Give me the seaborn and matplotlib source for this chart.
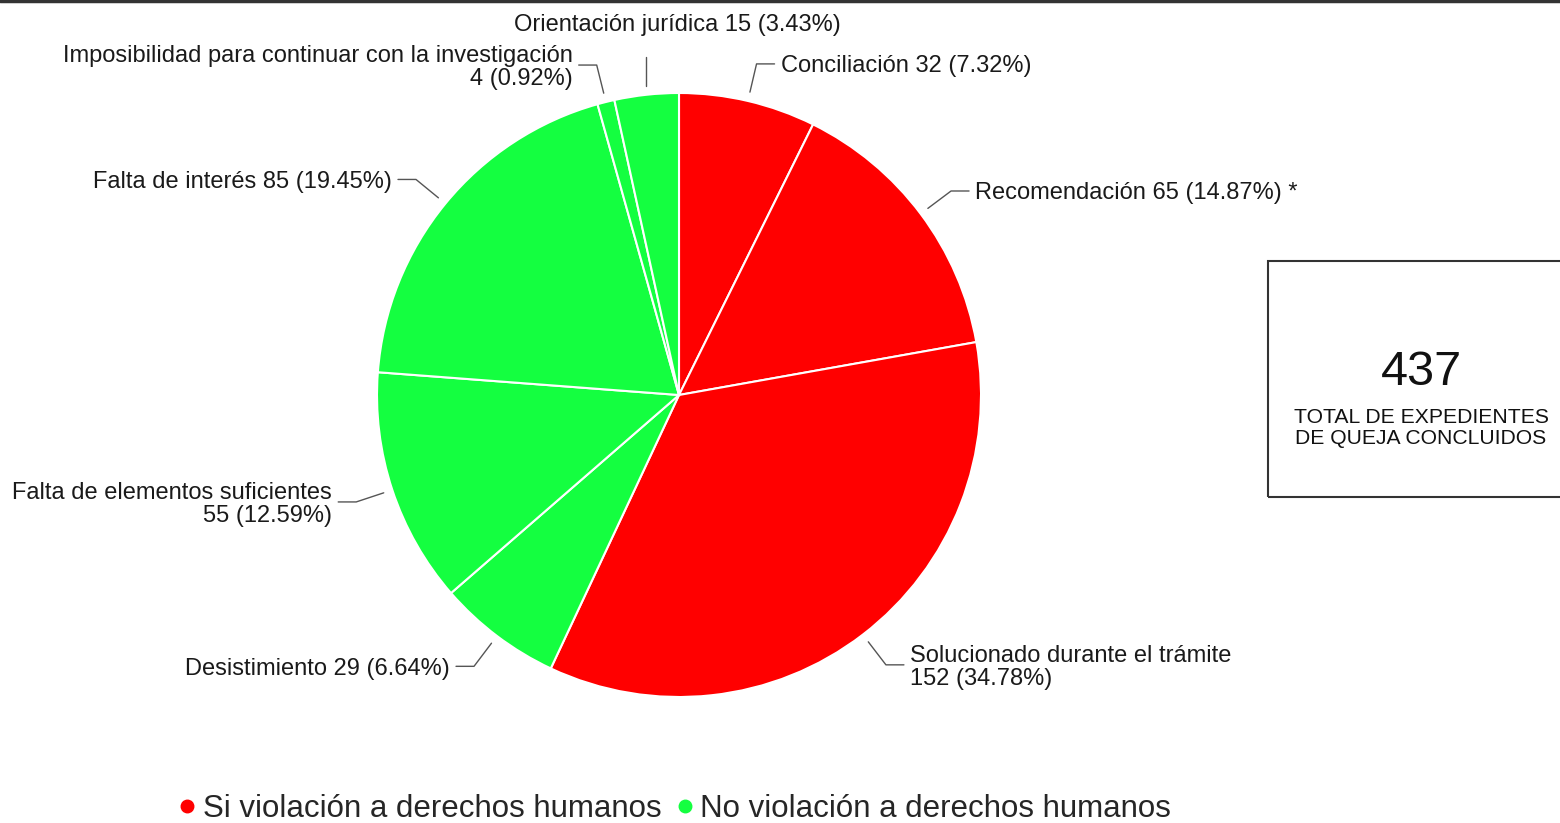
import numpy as np
import matplotlib
matplotlib.use("Agg")
import matplotlib.pyplot as plt
import seaborn as sns
from matplotlib.patches import Rectangle
from matplotlib.lines import Line2D

# ---------------- data ----------------
categories = ["Conciliación", "Recomendación", "Solucionado durante el trámite",
              "Desistimiento", "Falta de elementos suficientes", "Falta de interés",
              "Imposibilidad para continuar con la investigación", "Orientación jurídica"]
values = [32, 65, 152, 29, 55, 85, 4, 15]
groups = ["Si", "Si", "Si", "No", "No", "No", "No", "No"]
label_suffix = ["", " *", "", "", "", "", "", ""]
wrap_label = [False, False, True, False, True, False, True, False]
group_names = ["Si violación a derechos humanos", "No violación a derechos humanos"]
total_label = "TOTAL DE EXPEDIENTES\nDE QUEJA CONCLUIDOS"

# ---------------- style ----------------
sns.set_theme(style="white")
plt.rcParams["font.family"] = ["Liberation Sans", "DejaVu Sans"]
RED = "#ff0000"
GREEN = "#14ff40"
palette = {"Si": RED, "No": GREEN}

W, H = 1560, 823
fig = plt.figure(figsize=(W / 100, H / 100), dpi=100)
ax = fig.add_axes([0, 0, 1, 1])


def Y(y):
    return H - y


cx, cy, R = 679, 395, 302
colors = [palette[g] for g in groups]
wedges, _ = ax.pie(values, colors=colors, startangle=90, counterclock=False,
                   center=(cx, Y(cy)), radius=R, frame=True,
                   wedgeprops=dict(edgecolor="white", linewidth=1.5))
ax.set_xlim(0, W)
ax.set_ylim(0, H)
ax.set_aspect("equal")
ax.axis("off")

total = sum(values)
line_col = "#555555"
TXT_DY = -2.5
for w, name, v, suf, wrap in zip(wedges, categories, values, label_suffix, wrap_label):
    pct = v / total * 100
    sep = "\n" if wrap else " "
    txt = f"{name}{sep}{v} ({pct:.2f}%){suf}"
    th = np.deg2rad((w.theta1 + w.theta2) / 2)
    c, s = np.cos(th), np.sin(th)
    x1, y1 = cx + R * 1.03 * c, Y(cy) + R * 1.03 * s
    x2, y2 = cx + R * 1.126 * c, Y(cy) + R * 1.126 * s
    if abs(c) < 0.15:
        ax.plot([x1, x1], [y1, y2], color=line_col, lw=1)
        ax.text(cx - 2, y2 + 34 + TXT_DY, txt, ha="center", va="center", fontsize=17,
                color="#1a1a1a")
        continue
    d = 1 if c >= 0 else -1
    x3 = x2 + d * 18
    ax.plot([x1, x2, x3], [y1, y2, y2], color=line_col, lw=1)
    ax.text(x3 + d * 6, y2 + TXT_DY, txt, ha="left" if d > 0 else "right", va="center",
            multialignment="left" if d > 0 else "right", fontsize=17,
            linespacing=1.08, color="#1a1a1a")

# total box
ax.add_patch(Rectangle((1268, Y(497)), 300, 236, fill=False, edgecolor="#333333",
                       lw=1.5, clip_on=False))
ax.text(1421, Y(372), f"{total}", ha="center", va="center", fontsize=35, color="#111111")
ax.text(1421, Y(428), total_label, ha="center", va="center", fontsize=15.2,
        linespacing=1.1, color="#111111")

# top rule
ax.plot([0, W], [Y(1), Y(1)], color="#333333", lw=2.5, clip_on=False)

# legend
handles = [Line2D([], [], marker="o", linestyle="none", markersize=9,
                  markerfacecolor=palette[g], markeredgecolor=palette[g])
           for g in ["Si", "No"]]
fig.legend(handles, group_names, loc="center", bbox_to_anchor=(676 / W, 1 - 809 / H),
           ncol=2, frameon=False, fontsize=22.5, handlelength=0.4,
           handletextpad=0.3, columnspacing=0.55, borderaxespad=0, borderpad=0)

fig.savefig("out.png", dpi=100)
